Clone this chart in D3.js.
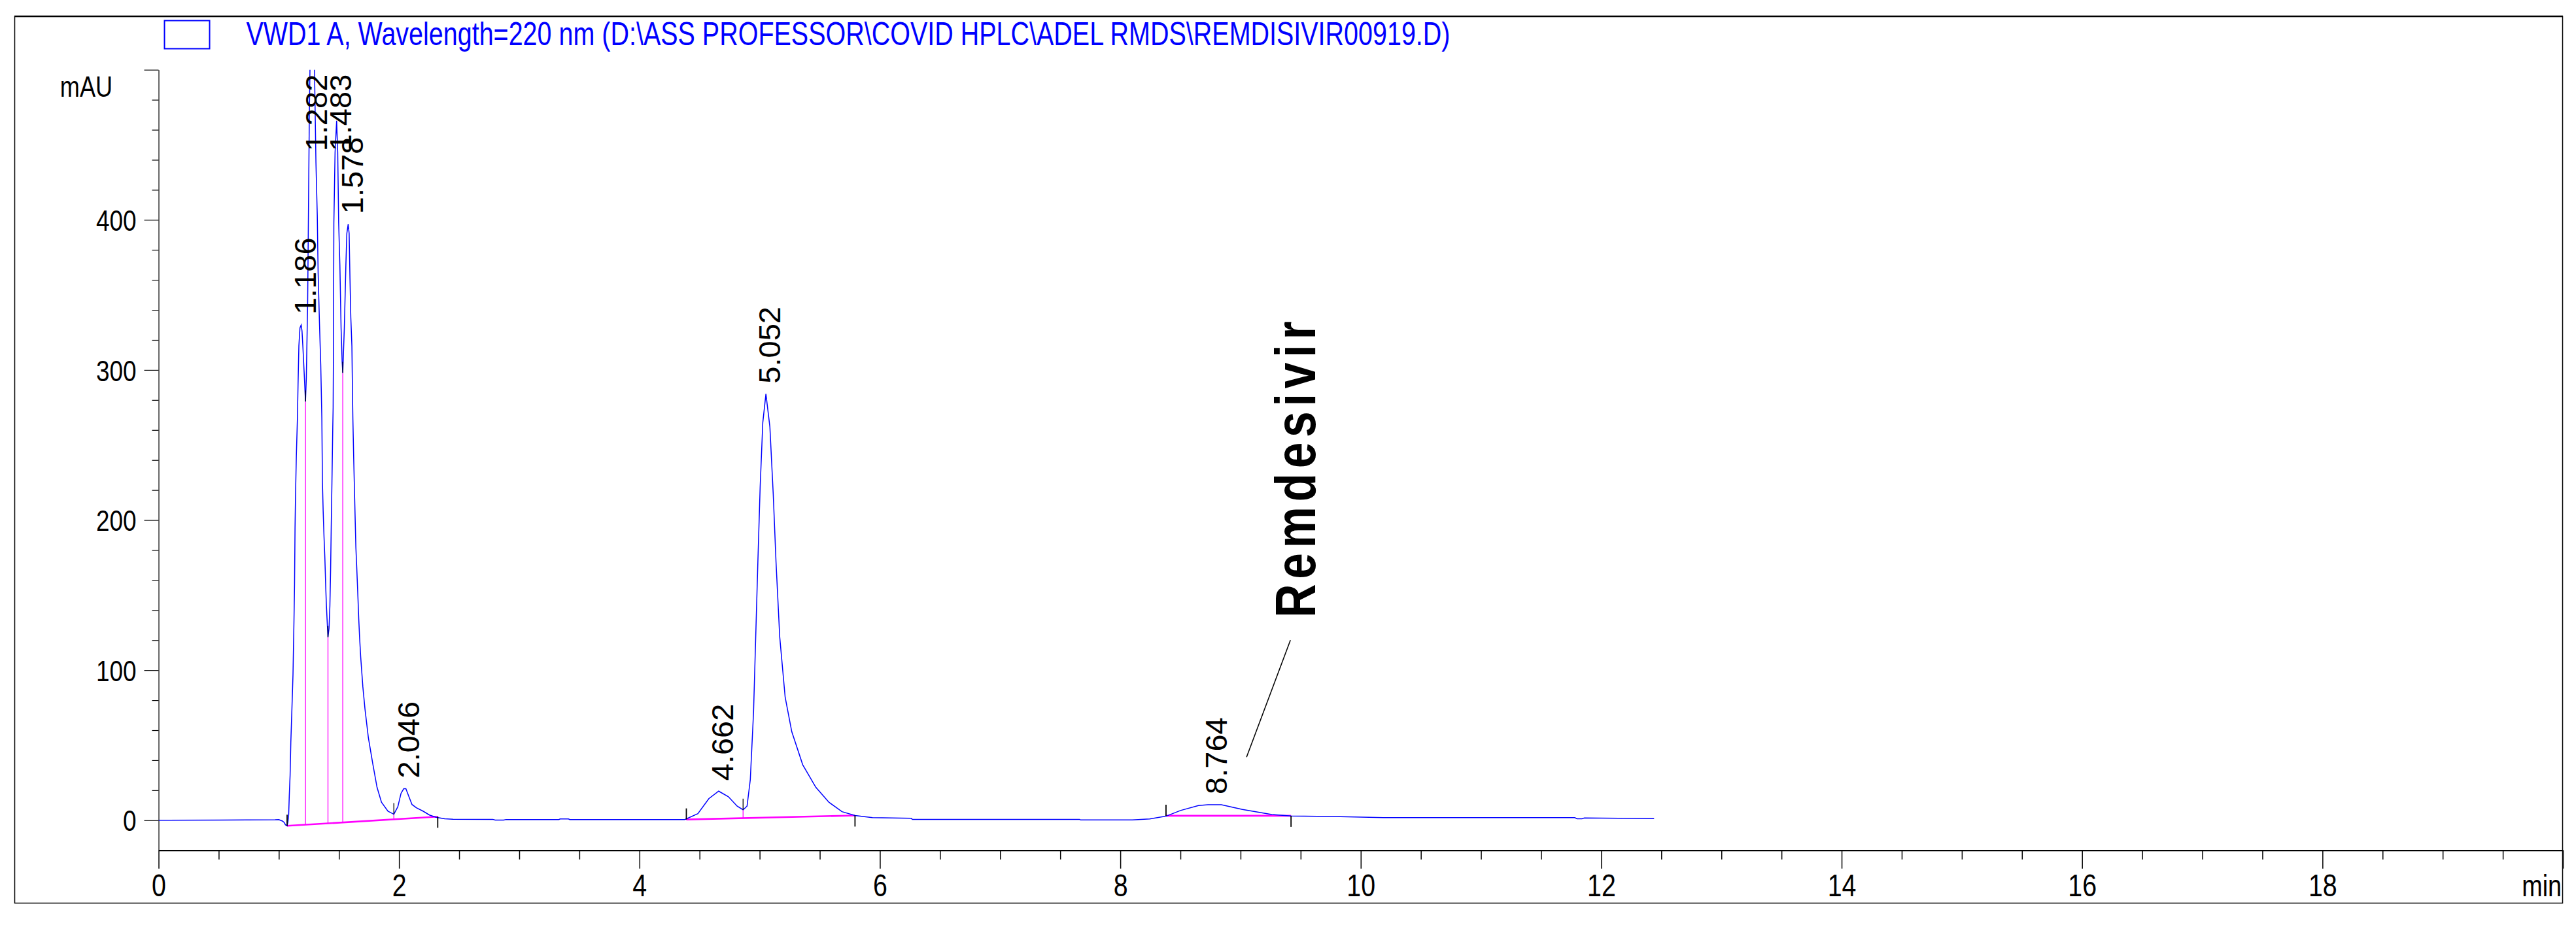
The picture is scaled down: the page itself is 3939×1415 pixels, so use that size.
<!DOCTYPE html>
<html>
<head>
<meta charset="utf-8">
<script src="https://cdn.jsdelivr.net/npm/d3@7"></script>
<style>
  html, body { margin: 0; padding: 0; background: #fff; }
  svg { display: block; }
</style>
</head>
<body>
<script>
// ---------------- DATA ----------------
const legendText = "VWD1 A, Wavelength=220 nm (D:\\ASS PROFESSOR\\COVID HPLC\\ADEL RMDS\\REMDISIVIR00919.D)";
const yUnit = "mAU";
const xUnit = "min";

// chromatogram trace (time in min, signal in mAU)
const traceTime = [0, 0.5, 0.97, 1.00, 1.03, 1.045, 1.055, 1.069, 1.076, 1.082, 1.087, 1.094, 1.100, 1.109, 1.118, 1.126, 1.131, 1.135, 1.140, 1.146, 1.155, 1.160, 1.167, 1.176, 1.186, 1.193, 1.200, 1.211, 1.222, 1.229, 1.240, 1.247, 1.254, 1.260, 1.270, 1.282, 1.290, 1.296, 1.309, 1.320, 1.327, 1.338, 1.349, 1.358, 1.363, 1.369, 1.376, 1.383, 1.391, 1.396, 1.402, 1.409, 1.418, 1.425, 1.431, 1.436, 1.442, 1.449, 1.452, 1.455, 1.458, 1.468, 1.481, 1.490, 1.498, 1.508, 1.518, 1.527, 1.532, 1.545, 1.558, 1.566, 1.577, 1.585, 1.592, 1.599, 1.608, 1.612, 1.616, 1.623, 1.629, 1.636, 1.641, 1.649, 1.654, 1.659, 1.665, 1.672, 1.681, 1.690, 1.699, 1.717, 1.745, 1.781, 1.817, 1.854, 1.908, 1.957, 1.990, 2.017, 2.039, 2.057, 2.081, 2.108, 2.144, 2.199, 2.253, 2.308, 2.38, 2.45, 2.78, 2.80, 2.87, 2.89, 3.33, 3.34, 3.41, 3.42, 4.377, 4.486, 4.577, 4.659, 4.74, 4.813, 4.862, 4.895, 4.922, 4.949, 4.967, 4.985, 5.004, 5.026, 5.052, 5.085, 5.113, 5.136, 5.167, 5.212, 5.267, 5.358, 5.467, 5.576, 5.685, 5.793, 5.938, 6.1, 6.26, 6.27, 7.66, 7.67, 8.10, 8.244, 8.383, 8.5, 8.65, 8.73, 8.84, 9.016, 9.26, 9.42, 9.83, 10.19, 11.78, 11.80, 11.84, 11.86, 12.44];
const traceMAU = [0, 0.1, 0.3, 0.4, -0.5, -1.5, -3, -3.7, -1, 3.5, 16, 30, 52, 74, 97, 132, 157, 195, 220, 243, 268, 290, 316, 328, 330, 326, 316, 298, 279, 295, 345, 408, 470, 505, 545, 560, 545, 505, 438, 403, 365, 332, 303, 268, 225, 206, 189, 175, 154, 143, 133, 122, 128, 143, 167, 195, 225, 262, 275, 320, 398, 445, 466, 445, 398, 370, 328, 305, 298, 328, 370, 391, 397, 391, 361, 335, 316, 290, 268, 241, 221, 198, 182, 167, 157, 147, 134, 122, 109, 99, 89, 74, 55, 38, 22, 12, 6, 4, 9, 18, 21, 21, 16, 10.5, 8.3, 6.1, 3.5, 2, 1, 0.7, 0.6, 0.1, 0.1, 0.5, 0.5, 0.9, 0.9, 0.5, 0.5, 4.4, 14.4, 19.4, 15.7, 9.4, 7.0, 9.4, 27, 72, 122, 172, 222, 265, 284, 262, 217, 172, 122, 82, 59, 37, 22, 12, 5.7, 3.2, 1.8, 1.5, 1.3, 0.6, 0.6, 0.2, 0.2, 0.9, 2.8, 6.5, 9.8, 10.4, 10.4, 7.2, 3.8, 2.8, 2.4, 1.7, 1.7, 1.0, 1.0, 1.5, 1.1];

// integrated peaks
const peakTimes   = [1.186, 1.282, 1.483, 1.578, 2.046, 4.662, 5.052, 8.764];
const peakHeights = [330, 560, 466, 397, 21, 19.4, 284, 10.4];

// integration baselines (start / end of each peak group)
const baseStartT = [1.069, 4.39, 8.38];
const baseStartV = [-3.7, 0.5, 3.0];
const baseEndT   = [2.322, 5.793, 9.42];
const baseEndV   = [2.4, 3.2, 3.0];

// drop lines at valleys between peaks
const dropTimes   = [1.222, 1.409, 1.532, 1.957, 4.862];
const dropValleys = [279, 122, 298, 4, 7.0];

// axis ticks
const xMajorTicks = [0, 2, 4, 6, 8, 10, 12, 14, 16, 18, 20];
const xLabelTicks = [0, 2, 4, 6, 8, 10, 12, 14, 16, 18];
const xMinorStep = 0.5;
const yMajorTicks = [0, 100, 200, 300, 400, 500];
const yLabelTicks = [0, 100, 200, 300, 400];
const yMinorStep = 20;

// annotation
const annotationText = "Remdesivir";
const annotationLineT = [9.05, 9.415];
const annotationLineV = [42, 120];
const annotationTextT = 9.62;
const annotationTextV = 135;

// ---------------- DRAWING ----------------
const W = 3939, H = 1415;
const FONT = "'Liberation Sans', Arial, sans-serif";
const NARROW_SCALE = 0.82;   // condensed look of the original lettering
const BLUE = "#0000ff", MAGENTA = "#ff00ff";

const svg = d3.select("body").append("svg")
  .attr("width", W).attr("height", H)
  .attr("viewBox", `0 0 ${W} ${H}`);
svg.append("rect").attr("width", W).attr("height", H).attr("fill", "#fff");

const x = d3.scaleLinear().domain([0, 20]).range([242.5, 3919]);
const y = d3.scaleLinear().domain([-20, 500]).range([1300.7, 106.7]);

// outer frame
svg.append("rect").attr("x", 22.5).attr("y", 25).attr("width", 3918.5 - 22.5).attr("height", 1381.5 - 25)
  .attr("fill", "none").attr("stroke", "#000").attr("stroke-width", 1.5);
svg.append("line").attr("x1", 22).attr("x2", 3919).attr("y1", 25).attr("y2", 25)
  .attr("stroke", "#000").attr("stroke-width", 2.5);

// legend
svg.append("rect").attr("x", 251.5).attr("y", 31.5).attr("width", 69).attr("height", 43)
  .attr("fill", "none").attr("stroke", BLUE).attr("stroke-width", 2);
svg.append("text").attr("x", 376.5).attr("y", 69)
  .attr("font-family", FONT).attr("font-size", 50).attr("fill", BLUE)
  .attr("textLength", 1841).attr("lengthAdjust", "spacingAndGlyphs")
  .text(legendText);

// y axis
const yMinor = d3.range(-20 + yMinorStep, 500 + 0.001, yMinorStep).filter(v => !yMajorTicks.includes(v));
const gyMinor = svg.append("g").attr("transform", `translate(${x(0)},0)`)
  .call(d3.axisLeft(y).tickValues(yMinor).tickSize(10).tickSizeOuter(0).tickFormat(""));
gyMinor.select(".domain").remove();
const gy = svg.append("g").attr("transform", `translate(${x(0)},0)`)
  .call(d3.axisLeft(y).tickValues(yMajorTicks).tickSize(22).tickSizeOuter(0).tickPadding(12)
    .tickFormat(d => yLabelTicks.includes(d) ? d3.format("d")(d) : ""));
gy.selectAll("text").attr("font-family", FONT).attr("font-size", 45).attr("fill", "#000")
  .attr("dy", "0.36em").attr("x", -34 / NARROW_SCALE)
  .attr("transform", `scale(${NARROW_SCALE},1)`);
svg.selectAll("g line").attr("stroke", "#000").attr("stroke-width", 1.2);
gy.select(".domain").attr("stroke", "#000").attr("stroke-width", 1.2);

svg.append("text").attr("transform", `translate(172,148) scale(${NARROW_SCALE},1)`)
  .attr("text-anchor", "end")
  .attr("font-family", FONT).attr("font-size", 44).text(yUnit);

// x axis
const xMinor = d3.range(0, 20 + 0.001, xMinorStep).filter(v => !xMajorTicks.includes(v));
const gxMinor = svg.append("g").attr("transform", `translate(0,${y(-20)})`)
  .call(d3.axisBottom(x).tickValues(xMinor).tickSize(14).tickSizeOuter(0).tickFormat(""));
gxMinor.select(".domain").remove();
gxMinor.selectAll("line").attr("stroke", "#000").attr("stroke-width", 1.5);
const gx = svg.append("g").attr("transform", `translate(0,${y(-20)})`)
  .call(d3.axisBottom(x).tickValues(xMajorTicks).tickSize(28).tickSizeOuter(0)
    .tickFormat(d => xLabelTicks.includes(d) ? d3.format("d")(d) : ""));
gx.selectAll("line").attr("stroke", "#000").attr("stroke-width", 1.5);
gx.select(".domain").attr("stroke", "#000").attr("stroke-width", 2.2);
gx.selectAll("text").attr("font-family", FONT).attr("font-size", 48).attr("fill", "#000")
  .attr("y", 70).attr("dy", null).attr("transform", `scale(${NARROW_SCALE},1)`);
svg.append("text").attr("transform", `translate(${x(20) - 2},${y(-20) + 70}) scale(${NARROW_SCALE},1)`)
  .attr("text-anchor", "end")
  .attr("font-family", FONT).attr("font-size", 46).text(xUnit);

// clip for plot area
svg.append("clipPath").attr("id", "plotclip").append("rect")
  .attr("x", x(0)).attr("y", y(500)).attr("width", x(20) - x(0)).attr("height", y(-20) - y(500));

const plot = svg.append("g").attr("clip-path", "url(#plotclip)");

// integration baselines
baseStartT.forEach((t0, i) => {
  plot.append("line")
    .attr("x1", x(t0)).attr("y1", y(baseStartV[i]))
    .attr("x2", x(baseEndT[i])).attr("y2", y(baseEndV[i]))
    .attr("stroke", MAGENTA).attr("stroke-width", 2.6);
});
function baseAt(t) {
  for (let i = 0; i < baseStartT.length; i++) {
    if (t >= baseStartT[i] && t <= baseEndT[i]) {
      const f = (t - baseStartT[i]) / (baseEndT[i] - baseStartT[i]);
      return baseStartV[i] + f * (baseEndV[i] - baseStartV[i]);
    }
  }
  return 0;
}
// drop lines
dropTimes.forEach((t, i) => {
  plot.append("line")
    .attr("x1", x(t)).attr("x2", x(t))
    .attr("y1", y(dropValleys[i])).attr("y2", y(baseAt(t)))
    .attr("stroke", MAGENTA).attr("stroke-width", 1.3);
});

// trace
const trace = traceTime.map((t, i) => [t, traceMAU[i]]);
plot.append("path").datum(trace)
  .attr("fill", "none").attr("stroke", BLUE).attr("stroke-width", 1.5)
  .attr("d", d3.line().x(d => x(d[0])).y(d => y(d[1])));

// peak start/end ticks
baseStartT.forEach((t, i) => {
  svg.append("line").attr("x1", x(t)).attr("x2", x(t))
    .attr("y1", y(baseStartV[i])).attr("y2", y(baseStartV[i]) - 17)
    .attr("stroke", "#000").attr("stroke-width", 1.8);
  svg.append("line").attr("x1", x(baseEndT[i])).attr("x2", x(baseEndT[i]))
    .attr("y1", y(baseEndV[i])).attr("y2", y(baseEndV[i]) + 17)
    .attr("stroke", "#000").attr("stroke-width", 1.8);
});
// valley ticks
dropTimes.forEach((t, i) => {
  svg.append("line").attr("x1", x(t)).attr("x2", x(t))
    .attr("y1", y(dropValleys[i]) - 17).attr("y2", y(dropValleys[i]))
    .attr("stroke", "#000").attr("stroke-width", 1.3);
});

// peak labels
peakTimes.forEach((t, i) => {
  const lab = svg.append("text")
    .attr("font-family", FONT).attr("font-size", 47).attr("fill", "#000")
    .text(t.toFixed(3));
  const len = lab.node().getComputedTextLength();
  let bottom = y(Math.min(peakHeights[i], 500)) - 16;
  bottom = Math.max(bottom, y(500) + 7 + len);
  lab.attr("transform", `translate(${x(t) + 22},${bottom}) rotate(-90)`);
});

// annotation
svg.append("line")
  .attr("x1", x(annotationLineT[0])).attr("y1", y(annotationLineV[0]))
  .attr("x2", x(annotationLineT[1])).attr("y2", y(annotationLineV[1]))
  .attr("stroke", "#000").attr("stroke-width", 1.5);
svg.append("text")
  .attr("transform", `translate(${x(annotationTextT)},${y(annotationTextV)}) rotate(-90) scale(${NARROW_SCALE},1)`)
  .attr("font-family", FONT).attr("font-weight", "bold").attr("font-size", 87)
  .attr("textLength", 453 / NARROW_SCALE).attr("lengthAdjust", "spacing")
  .text(annotationText);
</script>
</body>
</html>
